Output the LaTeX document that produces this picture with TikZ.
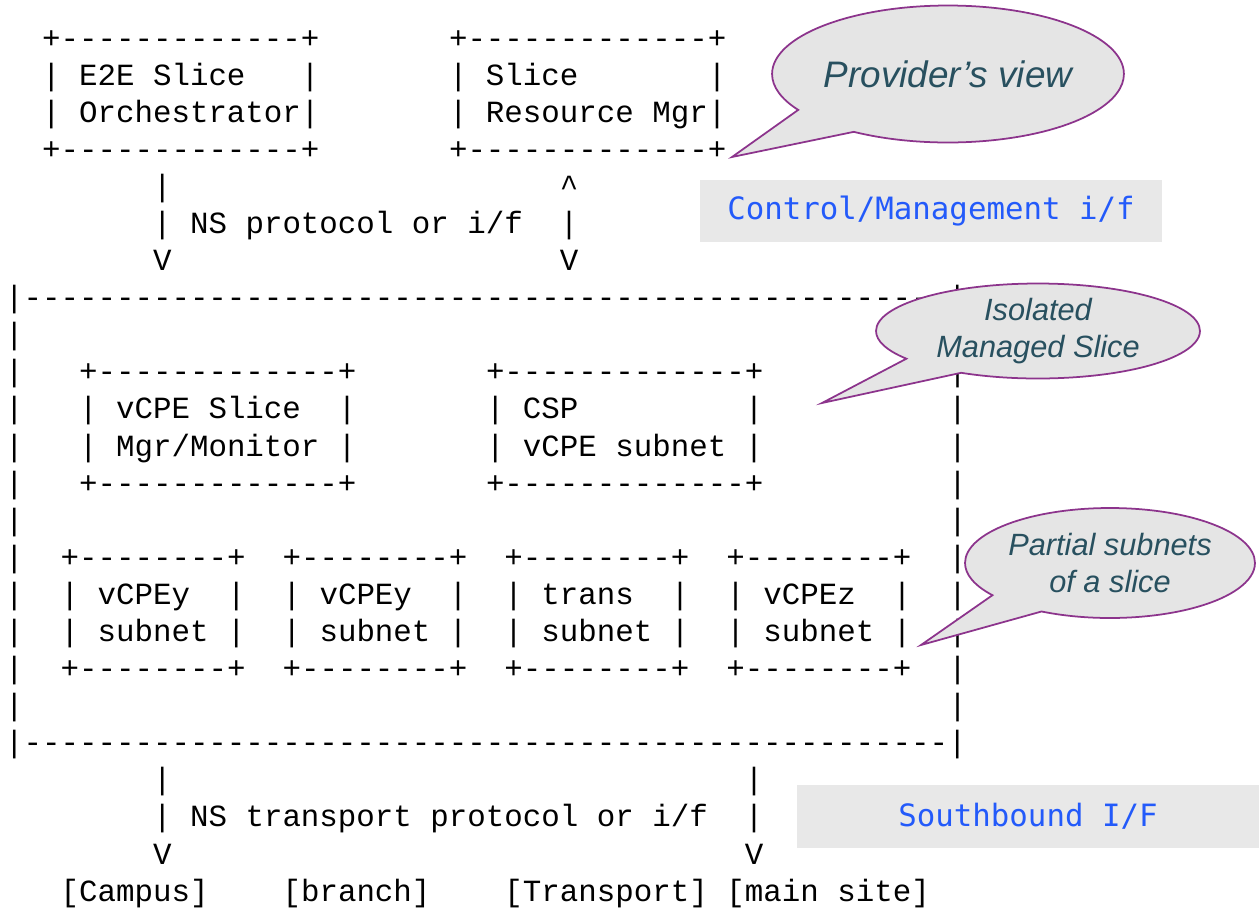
\documentclass[tikz,border=0pt]{standalone}
\usepackage{fontspec}
\setmonofont{Liberation Mono}
\newfontfamily\bubblefont{Liberation Sans}
\newfontfamily\iffont{DejaVu Sans Mono}
\usepackage{tikz}
\usetikzlibrary{positioning,shapes.callouts}
\definecolor{BubbleLine}{RGB}{140,52,140}
\definecolor{BubbleFill}{RGB}{229,229,229}
\definecolor{BubbleText}{RGB}{40,80,95}
\definecolor{IfBlue}{RGB}{35,90,250}
\definecolor{IfGray}{RGB}{232,232,232}
\tikzset{
    asc/.style={anchor=base west, inner sep=0pt, font=\ttfamily\fontsize{17.54pt}{21pt}\selectfont},
    bubble/.style={
        ellipse callout,
        draw=BubbleLine,
        fill=BubbleFill,
        line width=1pt,
        callout pointer arc=26,
        inner sep=0pt,
        align=center,
        text=BubbleText,
        font=\bubblefont\itshape\fontsize{17.5pt}{21pt}\selectfont
    },
    ifbox/.style={fill=IfGray, text=IfBlue, inner sep=0pt, font=\iffont\fontsize{17.5pt}{21pt}\selectfont}
}

\begin{document}
\begin{tikzpicture}[x=0.02cm, y=-0.02cm]
    \useasboundingbox (0,0) rectangle (1259,910);

    % --- ASCII ART (col, row) ---
    \begin{scope}[shift={(4.75,48)}, x=0.37cm, y=-0.742cm]
        % top boxes
        \node[asc] (e2eTop) at (2,0) {+-------------+};
        \node[asc] (e2eA) at (2,1) {| E2E Slice~~~|};
        \node[asc] (e2eB) at (2,2) {| Orchestrator|};
        \node[asc] (e2eBot) at (2,3) {+-------------+};
        \node[asc] (srmTop) at (24,0) {+-------------+};
        \node[asc] (srmA) at (24,1) {| Slice~~~~~~~|};
        \node[asc] (srmB) at (24,2) {| Resource Mgr|};
        \node[asc] (srmBot) at (24,3) {+-------------+};

        % NS protocol link
        \node[asc] (nsA) at (8,4) {|};
        \node[asc] (nsUp) at (30,4) {\textasciicircum};
        \node[asc] (nsText) at (8,5) {| NS protocol or i/f~~|};
        \node[asc] (nsV1) at (8,6) {V};
        \node[asc] (nsV2) at (30,6) {V};

        % slice frame
        \node[asc] (frameTop) at (0,7) {|--------------------------------------------------|};
        \foreach \r in {8,...,18} {
            \node[asc] (lbar\r) at (0,\r) {|};
        }
        \foreach \r in {9,...,18} {
            \node[asc] (rbar\r) at (51,\r) {|};
        }
        \node[asc] (frameBot) at (0,19) {|--------------------------------------------------|};

        % vCPE slice mgr and CSP subnet
        \node[asc] (mgrTop) at (4,9) {+-------------+};
        \node[asc] (mgrA) at (4,10) {| vCPE Slice~~|};
        \node[asc] (mgrB) at (4,11) {| Mgr/Monitor~|};
        \node[asc] (mgrBot) at (4,12) {+-------------+};
        \node[asc] (cspTop) at (26,9) {+-------------+};
        \node[asc] (cspA) at (26,10) {| CSP~~~~~~~~~|};
        \node[asc] (cspB) at (26,11) {| vCPE subnet~|};
        \node[asc] (cspBot) at (26,12) {+-------------+};

        % partial subnets
        \foreach \c/\t [count=\i] in {3/vCPEy,15/vCPEy,27/trans,39/vCPEz} {
            \node[asc] (subTop\i) at (\c,14) {+--------+};
            \node[asc] (subA\i) at (\c,15) {| \t~~|};
            \node[asc] (subB\i) at (\c,16) {| subnet~|};
            \node[asc] (subBot\i) at (\c,17) {+--------+};
        }

        % NS transport link
        \node[asc] (trA) at (8,20) {|};
        \node[asc] (trB) at (40,20) {|};
        \node[asc] (trText) at (8,21) {| NS transport protocol or i/f~~|};
        \node[asc] (trV1) at (8,22) {V};
        \node[asc] (trV2) at (40,22) {V};

        % sites
        \node[asc] (campus) at (3,23) {[Campus]};
        \node[asc] (branch) at (15,23) {[branch]};
        \node[asc] (transport) at (27,23) {[Transport]};
        \node[asc] (mainsite) at (39,23) {[main site]};
    \end{scope}

    % --- INTERFACE LABELS ---
    \node[ifbox, minimum width=9.26cm, minimum height=1.24cm] (ctrlIf) at (931,211) {Control/Management i/f};
    \node[ifbox, minimum width=9.24cm, minimum height=1.26cm] (southIf) at (1028,816) {Southbound I/F};

    % --- CALLOUTS ---
    \node[bubble, minimum width=6.72cm, minimum height=2.74cm,
          callout absolute pointer={(732,157)},
          font=\bubblefont\itshape\fontsize{21pt}{24pt}\selectfont] (provider) at (948,74) {Provider’s view};
    \node[bubble, minimum width=6.48cm, minimum height=1.9cm,
          callout absolute pointer={(822,403)}] (isolated) at (1038,331) {Isolated\\Managed Slice};
    \node[bubble, minimum width=5.8cm, minimum height=2.2cm,
          callout absolute pointer={(921,645)}] (partial) at (1110,563) {Partial subnets\\of a slice};
\end{tikzpicture}
\end{document}
